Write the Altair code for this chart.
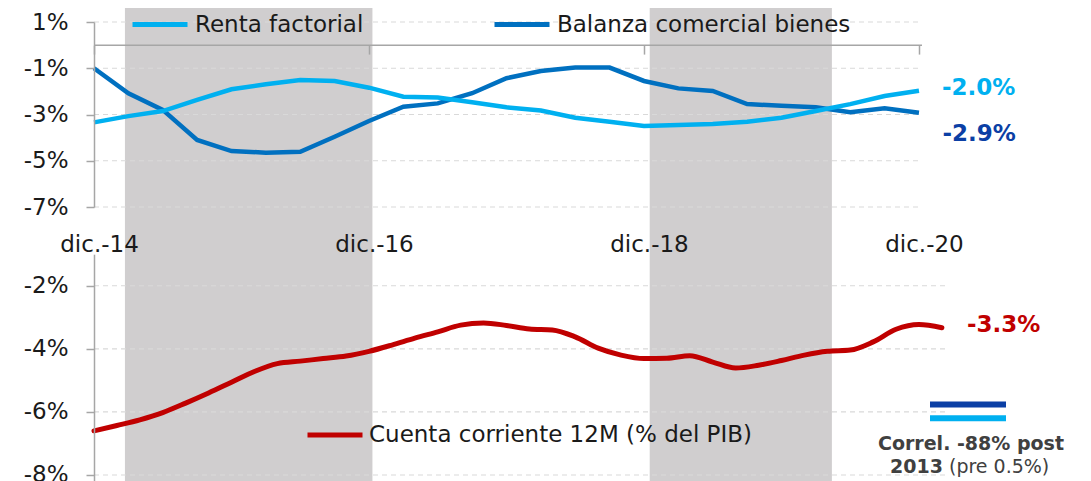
import altair as alt
import pandas as pd

FONT = "DejaVu Sans"
TXT = "#1a1a1a"
AXC = "#A6A6A6"
GRID = "#D9D9D9"

# ---------------- data (x = months counted from dic.-14) ----------------
months_q = list(range(0, 73, 3))  # quarterly observations dic.-14 ... dic.-20
renta = [-3.34, -3.07, -2.85, -2.37, -1.91, -1.69, -1.51, -1.55, -1.84, -2.23,
         -2.27, -2.47, -2.69, -2.83, -3.14, -3.31, -3.50, -3.45, -3.41, -3.31,
         -3.14, -2.85, -2.55, -2.20, -1.97]
balanza = [-1.00, -2.08, -2.80, -4.10, -4.58, -4.65, -4.61, -3.96, -3.28, -2.66,
           -2.52, -2.08, -1.43, -1.12, -0.97, -0.97, -1.55, -1.87, -1.98, -2.55,
           -2.62, -2.69, -2.90, -2.73, -2.92]
months_cc = list(range(0, 75, 2))
cuenta = [-6.60, -6.43, -6.25, -6.02, -5.72, -5.40, -5.06, -4.72, -4.47, -4.39,
          -4.31, -4.23, -4.08, -3.88, -3.66, -3.46, -3.25, -3.18, -3.26, -3.37,
          -3.40, -3.62, -3.98, -4.20, -4.31, -4.30, -4.22, -4.42, -4.61, -4.52,
          -4.37, -4.20, -4.08, -4.04, -3.78, -3.38, -3.23, -3.33]
shade_from = [2.7, 48.5]
shade_to = [24.3, 64.4]
tick_months = [0, 24, 48, 72]
tick_labels = ["dic.-14", "dic.-16", "dic.-18", "dic.-20"]
top_ticks = [1, -1, -3, -5, -7]
bot_ticks = [-8, -6, -4, -2]
series_names = ["Renta factorial", "Balanza comercial bienes"]
series_colors = ["#00B0F0", "#0070C0"]
cc_name = "Cuenta corriente 12M (% del PIB)"
cc_color = "#C00000"
label_dark = "#0B3FA5"
correl_line1 = "Correl. -88% post"
correl_year = "2013"
correl_rest = "(pre 0.5%)"

# ---------------- layout ----------------
W, H = 860, 473
PXM = 11.458                 # pixels per month
XMAX = W / PXM
WT = 828                     # width of the top panel's grid
WB = 854                     # width of the bottom panel's grid
top_scale = alt.Scale(domain=[-7, 1], range=[199, 14], nice=False, zero=False)
bot_scale = alt.Scale(domain=[-8.2, -1], range=[473.3, 246.2], nice=False, zero=False)
x_scale = alt.Scale(domain=[0, XMAX], nice=False, zero=False)
plain = alt.Axis(title=None)   # secondary layers: merged into the main axis

def fmt(v):
    return f"{v:.1f}%"

top_df = pd.DataFrame({
    "m": months_q * 2,
    "v": balanza + renta,
    "s": [series_names[1]] * len(balanza) + [series_names[0]] * len(renta),
})
cc_df = pd.DataFrame({"m": months_cc, "v": cuenta, "s": cc_name})
shade_df = pd.DataFrame({"a": shade_from, "b": shade_to})
top_grid_df = pd.DataFrame({"t": top_ticks})
bot_grid_df = pd.DataFrame({"t": bot_ticks})

label_expr = " : ".join(f"datum.value == {m} ? '{l}'" for m, l in zip(tick_months, tick_labels)) + " : ''"

x_axis = alt.Axis(
    values=tick_months, labelExpr=label_expr, orient="bottom",
    offset=37.1 - H, tickSize=9, tickColor=AXC, tickWidth=1.5, domain=False,
    labelPadding=197, labelBaseline="alphabetic", labelFontSize=23, labelColor=TXT,
    labelOffset=5, labelFlush=False, labelOverlap=False, grid=False, title=None, zindex=1)

def y_axis(vals):
    return alt.Axis(
        values=vals, orient="left", labelExpr="datum.value + '%'", tickSize=8,
        tickColor=AXC, tickWidth=1.5, domainColor=AXC, domainWidth=1.5, labelPadding=18,
        labelFontSize=23, labelColor=TXT, grid=False, title=None, zindex=1)

# ---------------- shading ----------------
shade = alt.Chart(shade_df).mark_rect(color="#D0CECF").encode(
    x=alt.X("a:Q", scale=x_scale, axis=plain),
    x2="b:Q",
)

# ---------------- top panel ----------------
top_grid = alt.Chart(top_grid_df).mark_rule(color=GRID, strokeDash=[5, 4], strokeWidth=1.2).encode(
    y=alt.Y("t:Q", scale=top_scale, axis=plain),
    x=alt.value(0),
    x2=alt.value(WT),
)
zero_line = alt.Chart(pd.DataFrame({"z": [0]})).mark_rule(color=AXC, strokeWidth=1.5).encode(
    y=alt.Y("z:Q", scale=top_scale, axis=plain),
    x=alt.value(0),
    x2=alt.value(WT),
)
top_lines = alt.Chart(top_df).mark_line(strokeWidth=4.5).encode(
    x=alt.X("m:Q", scale=x_scale, axis=x_axis),
    y=alt.Y("v:Q", scale=top_scale, axis=y_axis(top_ticks)),
    color=alt.Color("s:N", scale=alt.Scale(domain=series_names, range=series_colors),
                    legend=alt.Legend(orient="none", legendX=36, legendY=-13.5,
                                      direction="horizontal", title=None, symbolType="stroke",
                                      symbolSize=3025, symbolStrokeWidth=5, labelFontSize=23,
                                      labelColor=TXT, labelOffset=5, columnPadding=120,
                                      labelLimit=600, padding=0)),
)
renta_lbl = alt.Chart(pd.DataFrame({"m": [months_q[-1]], "v": [renta[-1]], "t": [fmt(renta[-1])]})).mark_text(
    align="left", baseline="middle", dx=23, dy=-3, fontSize=23, fontWeight="bold", color=series_colors[0]
).encode(x=alt.X("m:Q", scale=x_scale, axis=plain), y=alt.Y("v:Q", scale=top_scale, axis=plain), text="t:N")
bal_lbl = alt.Chart(pd.DataFrame({"m": [months_q[-1]], "v": [balanza[-1]], "t": [fmt(balanza[-1])]})).mark_text(
    align="left", baseline="middle", dx=23.5, dy=21, fontSize=23, fontWeight="bold", color=label_dark
).encode(x=alt.X("m:Q", scale=x_scale, axis=plain), y=alt.Y("v:Q", scale=top_scale, axis=plain), text="t:N")

top_group = alt.layer(shade, top_grid, zero_line, top_lines, renta_lbl, bal_lbl)

# ---------------- bottom panel ----------------
bot_grid = alt.Chart(bot_grid_df).mark_rule(color=GRID, strokeDash=[5, 4], strokeWidth=1.2).encode(
    y=alt.Y("t:Q", scale=bot_scale, axis=plain),
    x=alt.value(0),
    x2=alt.value(WB),
)
cc_line = alt.Chart(cc_df).mark_line(strokeWidth=5, interpolate="monotone", strokeCap="round").encode(
    x=alt.X("m:Q", scale=x_scale, axis=plain),
    y=alt.Y("v:Q", scale=bot_scale, axis=y_axis(bot_ticks)),
    color=alt.Color("s:N", scale=alt.Scale(domain=[cc_name], range=[cc_color]),
                    legend=alt.Legend(orient="none", legendX=211, legendY=397,
                                      direction="horizontal", title=None, symbolType="stroke",
                                      symbolSize=3025, symbolStrokeWidth=5, labelFontSize=23,
                                      labelColor=TXT, labelOffset=4, labelLimit=600, padding=0)),
)
cc_lbl = alt.Chart(pd.DataFrame({"m": [months_cc[-1]], "v": [cuenta[-1]], "t": [fmt(cuenta[-1])]})).mark_text(
    align="left", baseline="middle", dx=25, dy=-3, fontSize=23, fontWeight="bold", color=cc_color
).encode(x=alt.X("m:Q", scale=x_scale, axis=plain), y=alt.Y("v:Q", scale=bot_scale, axis=plain), text="t:N")

# ---------------- correlation note ----------------
one = pd.DataFrame({"k": [0]})
bar_dark = alt.Chart(one).mark_rule(color=label_dark, strokeWidth=6).encode(
    x=alt.value(836), x2=alt.value(912), y=alt.value(396.5))
bar_light = alt.Chart(one).mark_rule(color=series_colors[0], strokeWidth=6).encode(
    x=alt.value(836), x2=alt.value(912), y=alt.value(410.3))
note1 = alt.Chart(one).mark_text(align="center", baseline="middle", fontSize=19, fontWeight="bold",
                                 color="#404040", text=correl_line1).encode(
    x=alt.value(877), y=alt.value(436))
note2a = alt.Chart(one).mark_text(align="right", baseline="middle", fontSize=19, fontWeight="bold",
                                  color="#404040", text=correl_year).encode(
    x=alt.value(849), y=alt.value(459))
note2b = alt.Chart(one).mark_text(align="left", baseline="middle", fontSize=19,
                                  color="#404040", text=correl_rest).encode(
    x=alt.value(855), y=alt.value(459))

bot_group = alt.layer(bot_grid, cc_line, cc_lbl, bar_dark, bar_light, note1, note2a, note2b)

chart = alt.layer(top_group, bot_group).resolve_scale(
    y="independent", color="independent"
).properties(
    width=W, height=H,
    padding={"left": 86, "top": 0, "right": 125, "bottom": 0},
    autosize=alt.AutoSizeParams(type="none"),
).configure(font=FONT).configure_view(stroke=None)

chart.save("out.html", embed_options={"renderer": "svg", "actions": False})
